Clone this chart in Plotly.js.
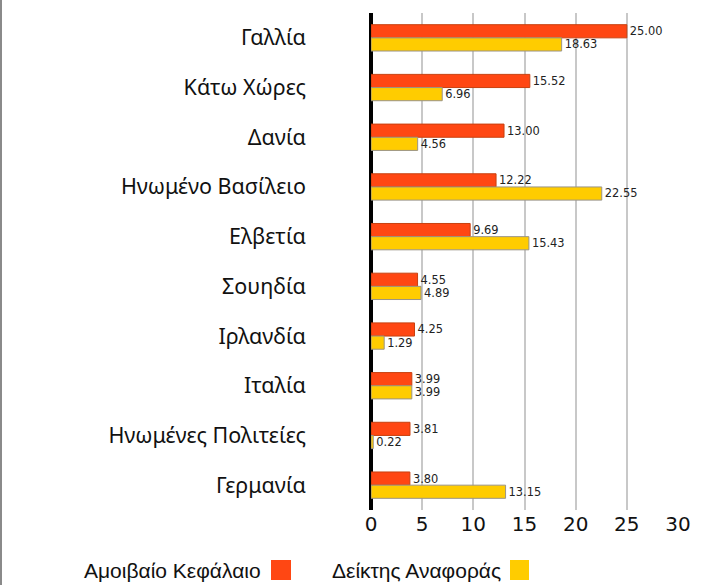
<!DOCTYPE html>
<html>
<head>
<meta charset="utf-8">
<script src="https://cdn.plot.ly/plotly-3.0.1.min.js"></script>
<style>
  html, body { margin: 0; padding: 0; background: #fff; }
  #wrap { width: 703px; height: 585px; box-sizing: border-box; border-left: 2px solid #8a8a8a; }
  #chart { width: 701px; height: 585px; }
</style>
</head>
<body>
<div id="wrap"><div id="chart"></div></div>
<script>
// ---- data ----
const categories = ["Γαλλία", "Κάτω Χώρες", "Δανία", "Ηνωμένο Βασίλειο", "Ελβετία",
                    "Σουηδία", "Ιρλανδία", "Ιταλία", "Ηνωμένες Πολιτείες", "Γερμανία"];
const mutualFund = [25.00, 15.52, 13.00, 12.22, 9.69, 4.55, 4.25, 3.99, 3.81, 3.80];
const benchmark  = [18.63, 6.96, 4.56, 22.55, 15.43, 4.89, 1.29, 3.99, 0.22, 13.15];
const seriesNames = ["Αμοιβαίο Κεφάλαιο", "Δείκτης Αναφοράς"];
const xTicks = [0, 5, 10, 15, 20, 25, 30];

// ---- styles ----
const colors = ["#FF4713", "#FFCC00"];
const borders = ["#C8400F", "#9A9486"];

const W = 701, H = 585;
const M = { l: 369, r: 25, t: 13, b: 75 };
const plotW = W - M.l - M.r, plotH = H - M.t - M.b;
// pixel (relative to the chart div) -> paper coordinates
const px = x => (x - M.l) / plotW;
const py = y => (H - M.b - y) / plotH;

const labelFont = { family: "DejaVu Sans", size: 13, color: "#222" };

const traces = [mutualFund, benchmark].map((vals, i) => ({
  type: "bar",
  orientation: "h",
  name: seriesNames[i],
  y: categories,
  x: vals,
  marker: { color: colors[i], line: { color: borders[i], width: 1 } },
  text: vals.map(v => v.toFixed(2)),
  textposition: "outside",
  textfont: labelFont,
  cliponaxis: false,
  hoverinfo: "x+name"
}));

// custom legend: text then swatch (as in the reference)
const legendItems = [
  { textRight: 261, sw0: 269, sw1: 289 },
  { textRight: 501, sw0: 508, sw1: 527 }
];
const legendY = 570;
const annotations = legendItems.map((it, i) => ({
  xref: "paper", yref: "paper",
  x: px(it.textRight), y: py(legendY),
  xanchor: "right", yanchor: "middle",
  text: seriesNames[i], showarrow: false,
  font: { family: "Liberation Sans", size: 21, color: "#111" }
}));
const shapes = legendItems.map((it, i) => ({
  type: "rect", xref: "paper", yref: "paper",
  x0: px(it.sw0), x1: px(it.sw1),
  y0: py(legendY + 10), y1: py(legendY - 10),
  fillcolor: colors[i], line: { width: 0 }
}));

const layout = {
  width: W, height: H,
  margin: M,
  paper_bgcolor: "#fff", plot_bgcolor: "#fff",
  barmode: "group",
  bargap: 0.47,
  bargroupgap: 0,
  showlegend: false,
  xaxis: {
    range: [0, 30],
    tickvals: xTicks,
    ticktext: xTicks.map(String),
    showgrid: true, gridcolor: "#c8c8c8", gridwidth: 2,
    zeroline: true, zerolinecolor: "#000", zerolinewidth: 4,
    showline: false, ticks: "",
    tickfont: { family: "DejaVu Sans", size: 20, color: "#111" },
    fixedrange: true
  },
  yaxis: {
    autorange: "reversed",
    showgrid: false, zeroline: false, showline: false, ticks: "",
    ticklabelstandoff: 64,
    tickfont: { family: "Noto Sans", size: 21.5, color: "#111" },
    fixedrange: true
  },
  annotations: annotations,
  shapes: shapes
};

Plotly.newPlot("chart", traces, layout, { displayModeBar: false, staticPlot: true });
</script>
</body>
</html>
